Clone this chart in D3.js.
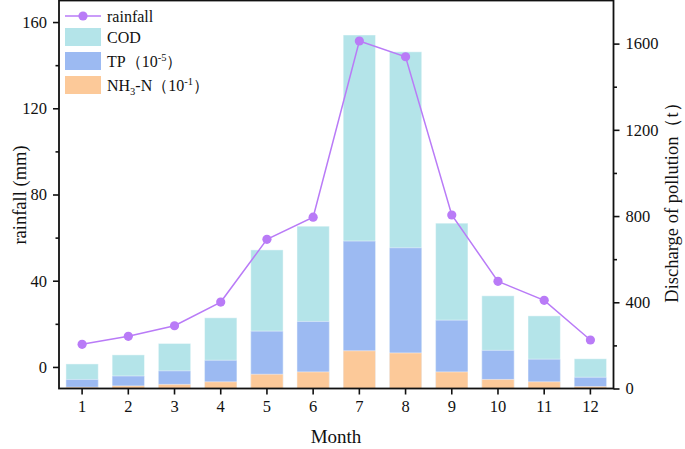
<!DOCTYPE html>
<html>
<head>
<meta charset="utf-8">
<script src="https://cdn.jsdelivr.net/npm/d3@7/dist/d3.min.js"></script>
<style>
  html, body { margin: 0; padding: 0; background: #fff; }
  svg { display: block; }
  text { font-family: "Liberation Serif", "Times New Roman", serif; fill: #111; }
</style>
</head>
<body>
<svg id="chart" width="685" height="449"></svg>
<script>
const months = [1, 2, 3, 4, 5, 6, 7, 8, 9, 10, 11, 12];
const rainfall = [10.5, 14.2, 19.1, 30.1, 59.2, 69.5, 151.2, 143.9, 70.5, 39.7, 30.9, 12.5];
const cod = [114, 156, 209, 328, 643, 753, 1640, 1562, 767, 430, 337, 138];
const tp = [42, 58, 82, 131, 266, 311, 684, 653, 317, 177, 136, 52];
const nh3 = [6, 12, 19, 31, 66, 77, 175, 165, 77, 42, 31, 9];
const leftTicks = [0, 40, 80, 120, 160];
const leftMinor = [20, 60, 100, 140];
const rightTicks = [0, 400, 800, 1200, 1600];
const rightMinor = [200, 600, 1000, 1400];

const colors = { cod: "#b4e4e9", tp: "#9cbaf2", nh3: "#fcc999", rain: "#b97bf7" };

const svg = d3.select("#chart");
const L = 59, R = 613.5, T = 0.5, B = 388.5;

const x = d3.scaleBand().domain(months).range([L, R]).paddingInner(0.3).paddingOuter(0.15);
const yL = d3.scaleLinear().domain([-10, 170]).range([B, T]);
const yR = d3.scaleLinear().domain([0, 1800]).range([B, T]);

// bars (overlaid from zero)
const series = [
  { key: "cod", vals: cod },
  { key: "tp", vals: tp },
  { key: "nh3", vals: nh3 }
];
series.forEach(s => {
  svg.append("g").selectAll("rect").data(months).join("rect")
    .attr("x", d => x(d))
    .attr("width", x.bandwidth())
    .attr("y", (d, i) => yR(s.vals[i]))
    .attr("height", (d, i) => yR(0) - yR(s.vals[i]))
    .attr("fill", colors[s.key])
    .attr("stroke", "#ffffff")
    .attr("stroke-opacity", 0.45)
    .attr("stroke-width", 1);
});

// rainfall line
const line = d3.line().x((d, i) => x(months[i]) + x.bandwidth() / 2).y(d => yL(d));
svg.append("path").datum(rainfall).attr("d", line)
  .attr("fill", "none").attr("stroke", colors.rain).attr("stroke-width", 1.5);
svg.append("g").selectAll("circle").data(rainfall).join("circle")
  .attr("cx", (d, i) => x(months[i]) + x.bandwidth() / 2)
  .attr("cy", d => yL(d))
  .attr("r", 4.6)
  .attr("fill", colors.rain);

// axes
const fs = "16.5px";
const fmt = d3.format("d");
const gx = svg.append("g").attr("transform", `translate(0,${B})`)
  .call(d3.axisBottom(x).tickSize(6).tickPadding(6));
const gl = svg.append("g").attr("transform", `translate(${L},0)`)
  .call(d3.axisLeft(yL).tickValues(leftTicks).tickSize(6).tickPadding(6).tickFormat(fmt));
const glm = svg.append("g").attr("transform", `translate(${L},0)`)
  .call(d3.axisLeft(yL).tickValues(leftMinor).tickSize(3.5).tickFormat(""));
const gr = svg.append("g").attr("transform", `translate(${R},0)`)
  .call(d3.axisRight(yR).tickValues(rightTicks).tickSize(6).tickPadding(6).tickFormat(fmt));
const grm = svg.append("g").attr("transform", `translate(${R},0)`)
  .call(d3.axisRight(yR).tickValues(rightMinor).tickSize(3.5).tickFormat(""));
[gx, gl, glm, gr, grm].forEach(g => {
  g.attr("font-family", null).attr("font-size", null);
  g.select(".domain").remove();
  g.selectAll(".tick line").attr("stroke", "#111").attr("stroke-width", 1.6);
  g.selectAll("text").style("font-size", fs).style("font-family", '"Liberation Serif", "Times New Roman", serif').attr("fill", "#222");
});

// frame
svg.append("rect").attr("x", L).attr("y", T).attr("width", R - L).attr("height", B - T)
  .attr("fill", "none").attr("stroke", "#111").attr("stroke-width", 1.8);

// axis titles
svg.append("text").attr("x", 336).attr("y", 443).attr("text-anchor", "middle")
  .style("font-size", "19px").text("Month");
svg.append("text").attr("transform", "translate(26,195) rotate(-90)").attr("text-anchor", "middle")
  .style("font-size", "18.5px").text("rainfall (mm)");
svg.append("text").attr("transform", "translate(678,198) rotate(-90)").attr("text-anchor", "middle")
  .style("font-size", "18.5px").text("Discharge of pollution（t）");

// legend
const lg = svg.append("g");
lg.append("line").attr("x1", 65).attr("x2", 101).attr("y1", 16).attr("y2", 16)
  .attr("stroke", colors.rain).attr("stroke-width", 1.5);
lg.append("circle").attr("cx", 83).attr("cy", 16).attr("r", 4.6).attr("fill", colors.rain);
lg.append("text").attr("x", 107).attr("y", 21.5).style("font-size", "16px").text("rainfall");
const items = [
  { key: "cod", y: 28 },
  { key: "tp", y: 52 },
  { key: "nh3", y: 76 }
];
items.forEach(it => {
  lg.append("rect").attr("x", 65).attr("y", it.y).attr("width", 36).attr("height", 18)
    .attr("fill", colors[it.key]);
});
lg.append("text").attr("x", 107).attr("y", 42.5).style("font-size", "16px").text("COD");
const t2 = lg.append("text").attr("x", 107).attr("y", 66.5).style("font-size", "16px");
t2.append("tspan").text("TP（10");
t2.append("tspan").attr("dy", -6).style("font-size", "10.5px").text("-5");
t2.append("tspan").attr("dy", 6).text("）");
const t3 = lg.append("text").attr("x", 107).attr("y", 90.5).style("font-size", "16px");
t3.append("tspan").text("NH");
t3.append("tspan").attr("dy", 4).style("font-size", "10.5px").text("3");
t3.append("tspan").attr("dy", -4).text("-N（10");
t3.append("tspan").attr("dy", -6).style("font-size", "10.5px").text("-1");
t3.append("tspan").attr("dy", 6).text("）");
</script>
</body>
</html>
